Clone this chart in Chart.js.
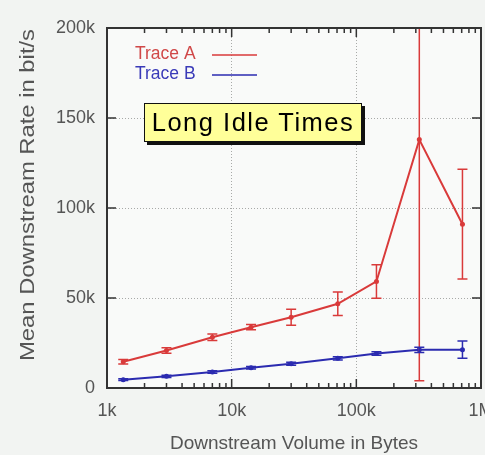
<!DOCTYPE html>
<html>
<head>
<meta charset="utf-8">
<script src="https://cdn.jsdelivr.net/npm/chart.js@4.4.1/dist/chart.umd.min.js"></script>
<style>
  html, body { margin: 0; padding: 0; background: #f2f4f2; overflow: hidden; }
  #wrap { position: relative; width: 485px; height: 455px; }
  #note {
    position: absolute; left: 144px; top: 103px; width: 216px; height: 37px;
    background: #ffff99; border: 1.5px solid #111; box-shadow: 3px 3px 0 #111;
    font-family: "Liberation Sans", Arial, sans-serif; font-size: 25.5px; letter-spacing: 1.5px;
    color: #000; line-height: 37px; text-align: center; white-space: nowrap;
  }
</style>
</head>
<body>
<div id="wrap">
  <canvas id="c" width="485" height="455"></canvas>
  <div id="note">Long Idle Times</div>
</div>
<script>
// ---- data ----
const volumes = [1350, 3000, 7000, 14300, 30000, 71000, 145000, 320000, 710000];
const traceA = [14600, 20800, 28200, 33800, 39300, 46800, 59200, 138000, 91000];
const traceAErr = [1200, 1500, 1800, 1500, 4500, 6500, 9300, 134000, 30500];
const traceB = [4600, 6500, 8900, 11200, 13500, 16500, 19200, 21200, 21300];
const traceBErr = [500, 600, 700, 700, 800, 900, 1000, 1500, 4800];
const xTickValues = [1000, 10000, 100000, 1000000];
const xTickLabels = ['1k', '10k', '100k', '1M'];
const yTickValues = [0, 50000, 100000, 150000, 200000];
const yTickLabels = ['0', '50k', '100k', '150k', '200k'];
const seriesNames = ['Trace A', 'Trace B'];
const yTitle = 'Mean Downstream Rate in bit/s';
const xTitle = 'Downstream Volume in Bytes';

const RED = '#d93a3a';
const BLUE = '#2b2bb0';
const TEXT = '#555';
const FONT = '"Liberation Sans", Arial, sans-serif';

const pts = (ys) => volumes.map((v, i) => ({ x: v, y: ys[i] }));

const bgPlugin = {
  id: 'bg',
  beforeDraw(chart) {
    const { ctx, chartArea: a } = chart;
    ctx.save();
    ctx.fillStyle = '#f2f4f2';
    ctx.fillRect(0, 0, chart.width, chart.height);
    ctx.fillStyle = '#f9faf9';
    ctx.fillRect(a.left, a.top, a.right - a.left, a.bottom - a.top);
    ctx.restore();
  }
};

const errPlugin = {
  id: 'errbars',
  afterDatasetsDraw(chart) {
    const { ctx, chartArea: a } = chart;
    const xs = chart.scales.x, ys = chart.scales.y;
    const sets = [[traceA, traceAErr, RED], [traceB, traceBErr, BLUE]];
    ctx.save();
    sets.forEach(([vals, errs, col]) => {
      ctx.strokeStyle = col;
      ctx.lineWidth = 1.5;
      vals.forEach((v, i) => {
        const px = xs.getPixelForValue(volumes[i]);
        let top = ys.getPixelForValue(v + errs[i]);
        let bot = ys.getPixelForValue(v - errs[i]);
        const capTop = top >= a.top, capBot = bot <= a.bottom;
        top = Math.max(top, a.top); bot = Math.min(bot, a.bottom);
        ctx.beginPath();
        ctx.moveTo(px, top); ctx.lineTo(px, bot);
        if (capTop) { ctx.moveTo(px - 5, top); ctx.lineTo(px + 5, top); }
        if (capBot) { ctx.moveTo(px - 5, bot); ctx.lineTo(px + 5, bot); }
        ctx.stroke();
      });
    });
    ctx.restore();
  }
};

const framePlugin = {
  id: 'frame',
  afterDraw(chart) {
    const { ctx, chartArea: a } = chart;
    const xs = chart.scales.x, ys = chart.scales.y;
    ctx.save();
    ctx.strokeStyle = '#333';
    ctx.lineWidth = 1.5;
    ctx.beginPath();
    for (let d = 1000; d < 1000000; d *= 10) {
      for (let m = 1; m <= 10; m++) {
        const v = d * m;
        if (v <= 1000 || v >= 1000000) continue;
        const px = xs.getPixelForValue(v);
        const len = (m === 10) ? 9 : 5;
        ctx.moveTo(px, a.bottom); ctx.lineTo(px, a.bottom - len);
        ctx.moveTo(px, a.top); ctx.lineTo(px, a.top + len);
      }
    }
    yTickValues.forEach(v => {
      if (v === 0 || v === 200000) return;
      const py = ys.getPixelForValue(v);
      ctx.moveTo(a.left, py); ctx.lineTo(a.left + 9, py);
      ctx.moveTo(a.right, py); ctx.lineTo(a.right - 9, py);
    });
    ctx.stroke();
    ctx.lineWidth = 2;
    ctx.strokeRect(a.left, a.top, a.right - a.left, a.bottom - a.top);

    // y-axis title (rotated, stretched to the reference length)
    ctx.save();
    ctx.font = '20px ' + FONT;
    ctx.fillStyle = TEXT;
    ctx.textAlign = 'center';
    ctx.textBaseline = 'middle';
    ctx.translate(28, 195);
    ctx.rotate(-Math.PI / 2);
    const w = ctx.measureText(yTitle).width;
    ctx.scale(332 / w, 1);
    ctx.fillText(yTitle, 0, 0);
    ctx.restore();

    // legend (top-left inside the plot)
    ctx.font = '17.5px ' + FONT;
    ctx.textBaseline = 'middle';
    ctx.textAlign = 'left';
    const cols = [RED, BLUE];
    seriesNames.forEach((n, i) => {
      const y = a.top + 26 + i * 20;
      ctx.fillStyle = i === 0 ? '#d04848' : '#3a3ab8';
      ctx.fillText(n, a.left + 28, y);
      ctx.strokeStyle = cols[i];
      ctx.lineWidth = 1.5;
      ctx.beginPath();
      ctx.moveTo(a.left + 105, y + 1); ctx.lineTo(a.left + 150, y + 1);
      ctx.stroke();
    });
    ctx.restore();
  }
};

new Chart(document.getElementById('c'), {
  type: 'line',
  data: {
    datasets: [
      { label: seriesNames[0], data: pts(traceA), borderColor: RED, backgroundColor: RED,
        borderWidth: 2, pointRadius: 2.5, pointBorderWidth: 0, tension: 0 },
      { label: seriesNames[1], data: pts(traceB), borderColor: BLUE, backgroundColor: BLUE,
        borderWidth: 2, pointRadius: 2.5, pointBorderWidth: 0, tension: 0 }
    ]
  },
  options: {
    responsive: false,
    animation: false,
    layout: { padding: { left: 0, top: 28, right: 1, bottom: 0 } },
    plugins: { legend: { display: false }, tooltip: { enabled: false } },
    scales: {
      x: {
        type: 'logarithmic', min: 1000, max: 1000000,
        afterBuildTicks(s) { s.ticks = xTickValues.map(v => ({ value: v })); },
        afterFit(s) { s.height = 67; s.paddingLeft = 0; s.paddingRight = 0; },
        ticks: {
          autoSkip: false, maxRotation: 0, padding: 12, color: TEXT,
          font: { family: FONT, size: 18 },
          callback(v) { const i = xTickValues.indexOf(v); return i >= 0 ? xTickLabels[i] : ''; }
        },
        grid: { color: '#a8aaa8', lineWidth: 1, drawTicks: false, tickLength: 0 },
        border: { display: false, dash: [1, 2] },
        title: { display: true, text: xTitle, color: TEXT,
                 font: { family: FONT, size: 19 }, padding: { top: 4, bottom: 0 } }
      },
      y: {
        type: 'linear', min: 0, max: 200000,
        afterBuildTicks(s) { s.ticks = yTickValues.map(v => ({ value: v })); },
        afterFit(s) { s.width = 107; s.paddingTop = 0; s.paddingBottom = 0; },
        ticks: {
          padding: 12, color: TEXT, font: { family: FONT, size: 18 },
          callback(v) { const i = yTickValues.indexOf(v); return i >= 0 ? yTickLabels[i] : ''; }
        },
        grid: { color: '#a8aaa8', lineWidth: 1, drawTicks: false, tickLength: 0 },
        border: { display: false, dash: [1, 2] },
        title: { display: false }
      }
    }
  },
  plugins: [bgPlugin, errPlugin, framePlugin]
});
</script>
</body>
</html>
